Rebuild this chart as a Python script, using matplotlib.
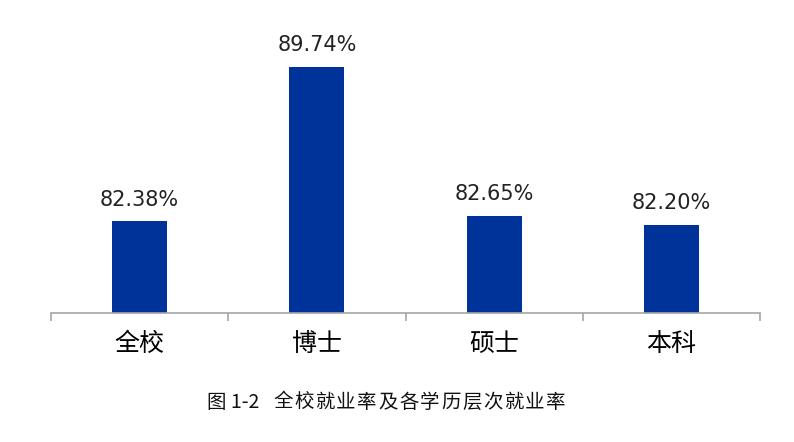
import matplotlib
matplotlib.use("Agg")
from matplotlib import pyplot as plt

plt.rcParams['font.family'] = ['Noto Sans CJK SC', 'DejaVu Sans']

categories = ["全校", "博士", "硕士", "本科"]
rates = [82.38, 89.74, 82.65, 82.20]
value_labels = ["82.38%", "89.74%", "82.65%", "82.20%"]
caption_prefix = "图 1-2"
caption_body = "全校就业率及各学历层次就业率"

fig = plt.figure(figsize=(7.94, 4.42), dpi=100)
ax = fig.add_axes([51 / 794, 1 - 313 / 442, 709 / 794, 293 / 442])

x = range(len(categories))
ax.bar(x, rates, width=0.31, color="#003399")
ax.set_ylim(78, 92)
ax.set_xlim(-0.5, len(categories) - 0.5)

for xi, v, lab in zip(x, rates, value_labels):
    ax.annotate(lab, (xi, v), xytext=(0, 8.5), textcoords="offset points",
                ha="center", va="bottom", fontsize=15, color="#222222",
                family="DejaVu Sans")

for s in ["top", "right", "left"]:
    ax.spines[s].set_visible(False)
ax.spines["bottom"].set_color("#a6a6a6")
ax.spines["bottom"].set_linewidth(1.2)
ax.set_yticks([])

ax.set_xticks([i - 0.5 for i in range(len(categories) + 1)])
ax.set_xticklabels([])
ax.tick_params(axis="x", which="major", length=6, color="#a6a6a6", width=1.2)
ax.set_xticks(list(x), minor=True)
ax.set_xticklabels(categories, minor=True, fontsize=18)
ax.tick_params(axis="x", which="minor", length=0, pad=13)

# caption, spaced out character by character like the source document
cy = 1 - 402 / 442
fig.text(207 / 794, cy, caption_prefix, ha="left", va="center",
         fontsize=14, color="#111111")
pitch = 21
for i, ch in enumerate(caption_body):
    fig.text((283 + i * pitch) / 794, cy, ch, ha="center", va="center",
             fontsize=14, color="#111111")

fig.savefig("out.png", dpi=100)
